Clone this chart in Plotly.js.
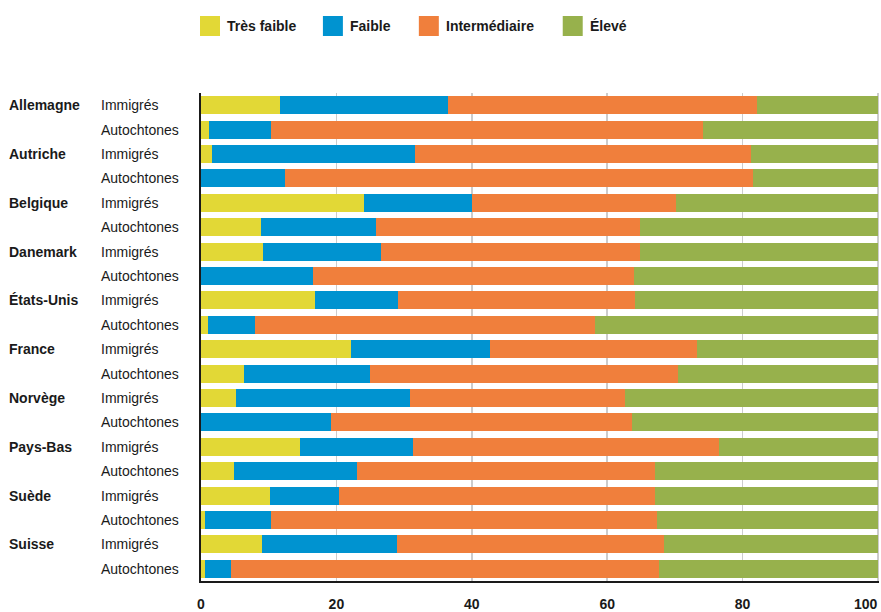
<!DOCTYPE html>
<html>
<head>
<meta charset="utf-8">
<script src="https://cdn.plot.ly/plotly-3.0.1.min.js"></script>
<style>
html,body{margin:0;padding:0;background:#fff;}
#chart{width:881px;height:612px;}
</style>
</head>
<body>
<div id="chart"></div>
<script>
// ---- Data ----
const countries = ['Allemagne','Autriche','Belgique','Danemark','États-Unis','France','Norvège','Pays-Bas','Suède','Suisse'];
const groups = ['Immigrés','Autochtones'];
const seriesNames = ['Très faible','Faible','Intermédiaire','Élevé'];
const seriesColors = ['#E2D836','#0093D0','#F07F3C','#97B14C'];
const tresFaible    = [11.6,1.2, 1.6,0,    24.1,8.9,  9.2,0,    16.9,1.0, 22.1,6.3,  5.2,0,    14.6,4.9,  10.2,0.6, 9.0,0.6];
const faible        = [24.9,9.1, 30.0,12.4, 15.9,16.9, 17.4,16.5, 12.2,7.0, 20.6,18.7, 25.7,19.2, 16.7,18.1, 10.2,9.7, 19.9,3.8];
const intermediaire = [45.6,63.9, 49.6,69.1, 30.1,39.0, 38.2,47.4, 35.0,50.2, 30.5,45.4, 31.8,44.4, 45.2,44.0, 46.6,57.0, 39.5,63.2];
const eleve         = [17.9,25.8, 18.8,18.5, 29.9,35.2, 35.2,36.1, 35.9,41.8, 26.8,29.6, 37.3,36.4, 23.5,33.0, 33.0,32.7, 31.6,32.4];
const xTicks = [0,20,40,60,80,100];

// ---- Build ----
const FONT = '"Liberation Sans", Arial, sans-serif';
const TXT = '#1a1a1a';
const cats = [];
countries.forEach(c => groups.forEach(g => cats.push(c + ' | ' + g)));
const seriesValues = [tresFaible, faible, intermediaire, eleve];

const traces = seriesValues.map((vals, i) => ({
  type: 'bar',
  orientation: 'h',
  name: seriesNames[i],
  x: vals,
  y: cats,
  marker: {color: seriesColors[i], line: {width: 0}},
  showlegend: false,
  hoverinfo: 'x+name'
}));

const W = 678.5, H = 488, L = 201, B = 581;
const annotations = [];
countries.forEach((c, ci) => {
  annotations.push({
    xref: 'paper', yref: 'y', x: (9 - L) / W, y: cats[ci*2], xanchor: 'left', yanchor: 'middle',
    xshift: -2, text: c, showarrow: false, font: {family: FONT, size: 14, color: TXT, weight: 'bold'}
  });
  groups.forEach((g, gi) => {
    annotations.push({
      xref: 'paper', yref: 'y', x: (101 - L) / W, y: cats[ci*2+gi], xanchor: 'left', yanchor: 'middle',
      xshift: -2, text: g, showarrow: false, font: {family: FONT, size: 14, color: TXT}
    });
  });
});

// last tick label is drawn right-aligned so it stays inside the page
const lastTick = xTicks[xTicks.length - 1];
annotations.push({
  xref: 'x', yref: 'paper', x: lastTick, y: (B - 604) / H, xanchor: 'right', yanchor: 'middle',
  xshift: 2, text: String(lastTick), showarrow: false,
  font: {family: FONT, size: 14, color: TXT, weight: 'bold'}
});

// custom legend (swatches + labels)
const legendX = [200, 323, 419, 563];
const shapes = [];
seriesNames.forEach((n, i) => {
  const x0 = (legendX[i] - L) / W, x1 = (legendX[i] + 20 - L) / W;
  shapes.push({type: 'rect', xref: 'paper', yref: 'paper', x0: x0, x1: x1,
    y0: (B - 36) / H, y1: (B - 16) / H, fillcolor: seriesColors[i], line: {width: 0}});
  annotations.push({xref: 'paper', yref: 'paper', x: (legendX[i] + 25 - L) / W, y: (B - 26) / H,
    xanchor: 'left', yanchor: 'middle', text: n, showarrow: false,
    font: {family: FONT, size: 14, color: TXT, weight: 'bold'}});
});

const layout = {
  width: 881, height: 612,
  margin: {l: 201, r: 1.5, t: 93, b: 31, pad: 0},
  paper_bgcolor: '#fff', plot_bgcolor: '#fff',
  barmode: 'stack', bargap: 0.263,
  font: {family: FONT, size: 14, color: TXT},
  xaxis: {
    range: [0, 100.15], tickvals: xTicks.slice(0, -1).concat([lastTick]),
    ticktext: xTicks.slice(0, -1).map(String).concat(['']),
    showgrid: true, gridcolor: '#cccccc', gridwidth: 1.5,
    zeroline: false, showline: true, linecolor: TXT, linewidth: 2,
    ticks: '', ticklabelstandoff: 9,
    tickfont: {family: FONT, size: 14, color: TXT, weight: 'bold'},
    fixedrange: true
  },
  yaxis: {
    type: 'category', categoryorder: 'array', categoryarray: cats,
    autorange: 'reversed', showticklabels: false, ticks: '',
    showgrid: false, zeroline: false, showline: true, linecolor: TXT, linewidth: 2,
    fixedrange: true
  },
  annotations: annotations,
  shapes: shapes,
  showlegend: false
};

Plotly.newPlot('chart', traces, layout, {displayModeBar: false, staticPlot: true});
</script>
</body>
</html>
